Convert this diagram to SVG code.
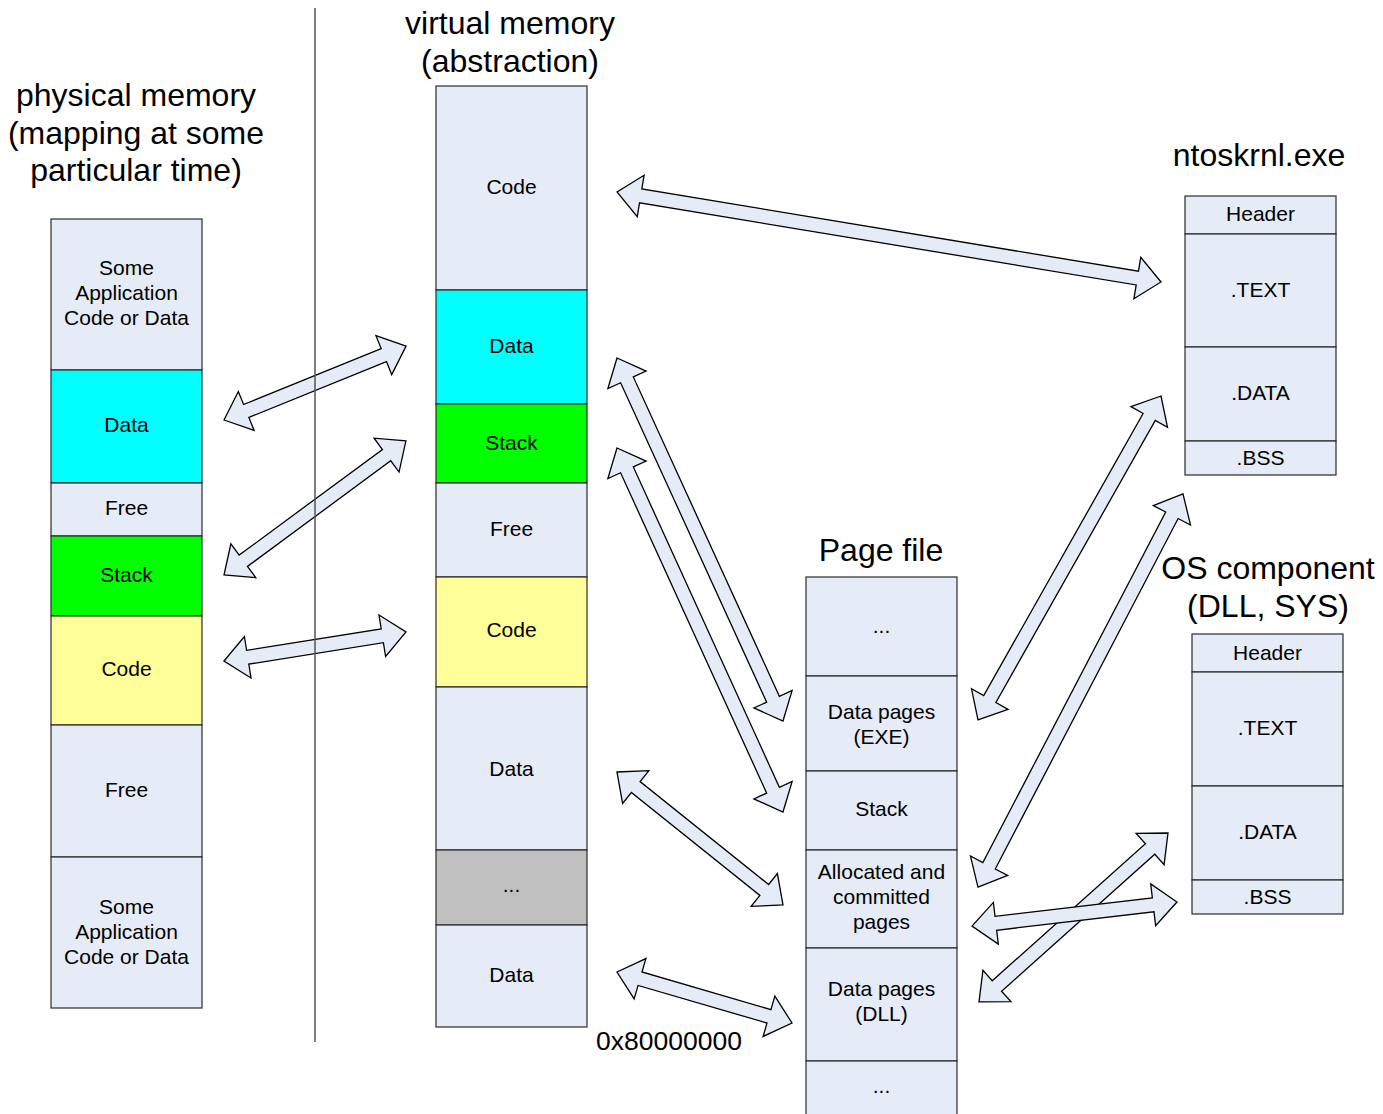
<svg xmlns="http://www.w3.org/2000/svg" width="1383" height="1114" viewBox="0 0 1383 1114">
  <style>
    .cell { fill: #E6ECF7; stroke: #2b2b2b; stroke-width: 1.2; }
    .cyan { fill: #00FFFF; }
    .green { fill: #00FF00; }
    .yellow { fill: #FFFF99; }
    .gray { fill: #C0C0C0; }
    .lbl { font-family: "Liberation Sans", Arial, sans-serif; font-size: 21px; fill: #000; text-anchor: middle; }
    .title { font-family: "Liberation Sans", Arial, sans-serif; font-size: 32px; fill: #000; text-anchor: middle; }
    .addr { font-family: "Liberation Sans", Arial, sans-serif; font-size: 26.5px; fill: #000; text-anchor: middle; }
    .arrow { fill: #E6ECF7; stroke: #000; stroke-width: 1.3; stroke-linejoin: miter; }
    .divider { stroke: #555; stroke-width: 1.5; }
  </style>

  <rect width="1383" height="1114" fill="#ffffff"/>

  <!-- Titles -->
  <g id="titles">
    <text class="title" x="136" y="106">physical memory</text>
    <text class="title" x="136" y="144">(mapping at some</text>
    <text class="title" x="136" y="181">particular time)</text>
    <text class="title" x="510" y="34">virtual memory</text>
    <text class="title" x="510" y="72">(abstraction)</text>
    <text class="title" x="1259" y="166">ntoskrnl.exe</text>
    <text class="title" x="881" y="561">Page file</text>
    <text class="title" x="1268" y="579">OS component</text>
    <text class="title" x="1268" y="617">(DLL, SYS)</text>
    <text class="addr" x="669" y="1050">0x80000000</text>
  </g>

  <!-- Physical memory column -->
  <g id="physical-memory">
    <rect class="cell" x="51" y="219" width="151" height="151"/>
    <rect class="cell cyan" x="51" y="370" width="151" height="113"/>
    <rect class="cell" x="51" y="483" width="151" height="53"/>
    <rect class="cell green" x="51" y="536" width="151" height="80"/>
    <rect class="cell yellow" x="51" y="616" width="151" height="109"/>
    <rect class="cell" x="51" y="725" width="151" height="132"/>
    <rect class="cell" x="51" y="857" width="151" height="151"/>
    <text class="lbl" x="126.5" y="274.5">Some</text>
    <text class="lbl" x="126.5" y="299.5">Application</text>
    <text class="lbl" x="126.5" y="324.5">Code or Data</text>
    <text class="lbl" x="126.5" y="432">Data</text>
    <text class="lbl" x="126.5" y="515">Free</text>
    <text class="lbl" x="126.5" y="581.5">Stack</text>
    <text class="lbl" x="126.5" y="675.5">Code</text>
    <text class="lbl" x="126.5" y="796.5">Free</text>
    <text class="lbl" x="126.5" y="913.5">Some</text>
    <text class="lbl" x="126.5" y="938.5">Application</text>
    <text class="lbl" x="126.5" y="963.5">Code or Data</text>
  </g>

  <!-- Virtual memory column -->
  <g id="virtual-memory">
    <rect class="cell" x="436" y="86" width="151" height="204"/>
    <rect class="cell cyan" x="436" y="290" width="151" height="114"/>
    <rect class="cell green" x="436" y="404" width="151" height="79"/>
    <rect class="cell" x="436" y="483" width="151" height="94"/>
    <rect class="cell yellow" x="436" y="577" width="151" height="110"/>
    <rect class="cell" x="436" y="687" width="151" height="163"/>
    <rect class="cell gray" x="436" y="850" width="151" height="75"/>
    <rect class="cell" x="436" y="925" width="151" height="102"/>
    <text class="lbl" x="511.5" y="193.5">Code</text>
    <text class="lbl" x="511.5" y="352.5">Data</text>
    <text class="lbl" x="511.5" y="449.5">Stack</text>
    <text class="lbl" x="511.5" y="535.5">Free</text>
    <text class="lbl" x="511.5" y="637">Code</text>
    <text class="lbl" x="511.5" y="776">Data</text>
    <text class="lbl" x="511.5" y="892">...</text>
    <text class="lbl" x="511.5" y="982">Data</text>
  </g>

  <!-- Page file column -->
  <g id="page-file">
    <rect class="cell" x="806" y="577" width="151" height="99"/>
    <rect class="cell" x="806" y="676" width="151" height="95"/>
    <rect class="cell" x="806" y="771" width="151" height="79"/>
    <rect class="cell" x="806" y="850" width="151" height="98"/>
    <rect class="cell" x="806" y="948" width="151" height="113"/>
    <rect class="cell" x="806" y="1061" width="151" height="70"/>
    <text class="lbl" x="881.5" y="633">...</text>
    <text class="lbl" x="881.5" y="719">Data pages</text>
    <text class="lbl" x="881.5" y="744">(EXE)</text>
    <text class="lbl" x="881.5" y="816">Stack</text>
    <text class="lbl" x="881.5" y="879">Allocated and</text>
    <text class="lbl" x="881.5" y="904">committed</text>
    <text class="lbl" x="881.5" y="929">pages</text>
    <text class="lbl" x="881.5" y="996">Data pages</text>
    <text class="lbl" x="881.5" y="1021">(DLL)</text>
    <text class="lbl" x="881.5" y="1093">...</text>
  </g>

  <!-- ntoskrnl.exe image -->
  <g id="ntoskrnl">
    <rect class="cell" x="1185" y="196" width="151" height="38"/>
    <rect class="cell" x="1185" y="234" width="151" height="113"/>
    <rect class="cell" x="1185" y="347" width="151" height="94"/>
    <rect class="cell" x="1185" y="441" width="151" height="34"/>
    <text class="lbl" x="1260.5" y="221">Header</text>
    <text class="lbl" x="1260.5" y="296.5">.TEXT</text>
    <text class="lbl" x="1260.5" y="400">.DATA</text>
    <text class="lbl" x="1260.5" y="464.5">.BSS</text>
  </g>

  <!-- OS component image -->
  <g id="os-component">
    <rect class="cell" x="1192" y="634" width="151" height="38"/>
    <rect class="cell" x="1192" y="672" width="151" height="114"/>
    <rect class="cell" x="1192" y="786" width="151" height="94"/>
    <rect class="cell" x="1192" y="880" width="151" height="34"/>
    <text class="lbl" x="1267.5" y="659.5">Header</text>
    <text class="lbl" x="1267.5" y="735">.TEXT</text>
    <text class="lbl" x="1267.5" y="839">.DATA</text>
    <text class="lbl" x="1267.5" y="903.5">.BSS</text>
  </g>

  <!-- Double-headed block arrows; each drawn along +x from its first tip -->
  <g id="connectors">
    <polygon class="arrow" transform="translate(224 420) rotate(-22.1)" points="0,0 24,-21 24,-7 172.5,-7 172.5,-21 196.5,0 172.5,21 172.5,7 24,7 24,21"/>
    <polygon class="arrow" transform="translate(224 575) rotate(-36.4)" points="0,0 24,-21 24,-7 202,-7 202,-21 226,0 202,21 202,7 24,7 24,21"/>
    <polygon class="arrow" transform="translate(224 661) rotate(-9.05)" points="0,0 24,-21 24,-7 160.3,-7 160.3,-21 184.3,0 160.3,21 160.3,7 24,7 24,21"/>
    <polygon class="arrow" transform="translate(617 192) rotate(9.39)" points="0,0 24,-21 24,-7 527.4,-7 527.4,-21 551.4,0 527.4,21 527.4,7 24,7 24,21"/>
    <polygon class="arrow" transform="translate(617 358) rotate(65.43)" points="0,0 24,-21 24,-7 375.2,-7 375.2,-21 399.2,0 375.2,21 375.2,7 24,7 24,21"/>
    <polygon class="arrow" transform="translate(617 448) rotate(65.49)" points="0,0 24,-21 24,-7 376.1,-7 376.1,-21 400.1,0 376.1,21 376.1,7 24,7 24,21"/>
    <polygon class="arrow" transform="translate(617 772) rotate(38.7)" points="0,0 24,-21 24,-7 188.7,-7 188.7,-21 212.7,0 188.7,21 188.7,7 24,7 24,21"/>
    <polygon class="arrow" transform="translate(617 972) rotate(16.25)" points="0,0 24,-21 24,-7 158.3,-7 158.3,-21 182.3,0 158.3,21 158.3,7 24,7 24,21"/>
    <polygon class="arrow" transform="translate(1161 396) rotate(119.46)" points="0,0 24,-21 24,-7 348.1,-7 348.1,-21 372.1,0 348.1,21 348.1,7 24,7 24,21"/>
    <polygon class="arrow" transform="translate(1183 494) rotate(117.55)" points="0,0 24,-21 24,-7 419.3,-7 419.3,-21 443.3,0 419.3,21 419.3,7 24,7 24,21"/>
    <polygon class="arrow" transform="translate(1168 833) rotate(138.2)" points="0,0 24,-21 24,-7 229.5,-7 229.5,-21 253.5,0 229.5,21 229.5,7 24,7 24,21"/>
    <polygon class="arrow" transform="translate(1177 902) rotate(173.3)" points="0,0 24,-21 24,-7 182.4,-7 182.4,-21 206.4,0 182.4,21 182.4,7 24,7 24,21"/>
  </g>

  <!-- Separator between physical and virtual views -->
  <line class="divider" x1="315" y1="8" x2="315" y2="1042"/>
</svg>
